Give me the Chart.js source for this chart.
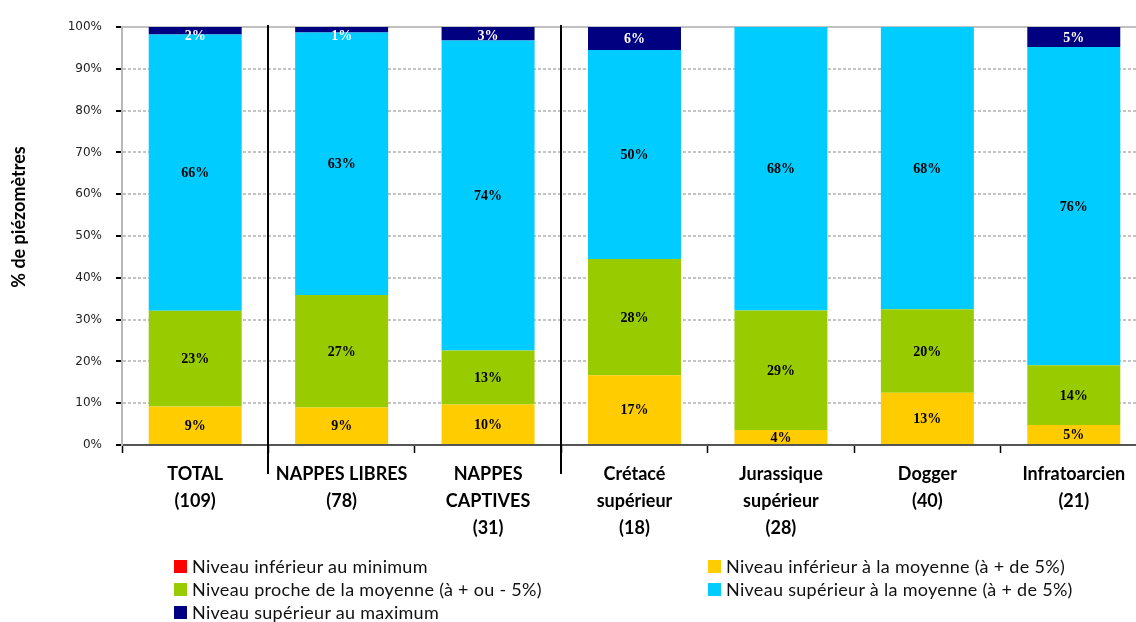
<!DOCTYPE html>
<html lang="fr">
<head>
<meta charset="utf-8">
<title>Piézomètres</title>
<script src="https://cdn.jsdelivr.net/npm/chart.js@4.4.1/dist/chart.umd.min.js"></script>
<style>
  html, body { margin: 0; padding: 0; background: #fff; overflow: hidden; }
  #wrap { position: relative; width: 1147px; height: 622px; }
  #legend { position: absolute; left: 0; top: 0; width: 1136px; height: 622px; pointer-events: none;
            font-family: Lato, "Open Sans", sans-serif; font-size: 18px; letter-spacing: 0.3px; color: #111; }
  .lg-item { position: absolute; display: flex; align-items: center; white-space: nowrap; height: 22px; }
  .lg-box  { width: 13px; height: 13px; margin-right: 5px; }
</style>
</head>
<body>
<div id="wrap">
  <canvas id="chart" width="1147" height="622"></canvas>
  <div id="legend"></div>
</div>

<script>
/* ── Data ────────────────────────────────────────────────────────────────── */
const categories = [
  ['TOTAL', '(109)'],
  ['NAPPES LIBRES', '(78)'],
  ['NAPPES', 'CAPTIVES', '(31)'],
  ['Crétacé', 'supérieur', '(18)'],
  ['Jurassique', 'supérieur', '(28)'],
  ['Dogger', '(40)'],
  ['Infratoarcien', '(21)'],
];

const seriesLabels = [
  'Niveau inférieur au minimum',
  'Niveau inférieur à la moyenne (à + de 5%)',
  'Niveau proche de la moyenne (à + ou - 5%)',
  'Niveau supérieur à la moyenne (à + de  5%)',
  'Niveau supérieur au maximum',
];
const seriesColors = ['#FF0000', '#FFCC00', '#99CC00', '#00CCFF', '#000080'];

const belowMin   = [0, 0, 0, 0, 0, 0, 0];
const belowMean  = [9.2, 9.0, 9.7, 16.7, 3.6, 12.5, 4.8];
const nearMean   = [22.9, 26.9, 12.9, 27.8, 28.6, 20.0, 14.3];
const aboveMean  = [66.1, 62.8, 74.2, 50.0, 67.8, 67.5, 76.1];
const aboveMax   = [1.8, 1.3, 3.2, 5.5, 0, 0, 4.8];

const yTicks = [0, 10, 20, 30, 40, 50, 60, 70, 80, 90, 100];
const yTitle = '% de piézomètres';

const seriesData = [belowMin, belowMean, nearMean, aboveMean, aboveMax];

/* ── Plugins ─────────────────────────────────────────────────────────────── */
const barLabels = {
  id: 'barLabels',
  afterDatasetsDraw(chart) {
    const ctx = chart.ctx;
    ctx.save();
    ctx.font = 'bold 14px "Liberation Serif", serif';
    ctx.textAlign = 'center';
    ctx.textBaseline = 'middle';
    chart.data.datasets.forEach((ds, di) => {
      if (di === 0) return;
      const meta = chart.getDatasetMeta(di);
      meta.data.forEach((bar, i) => {
        const v = ds.data[i];
        if (!v) return;
        ctx.fillStyle = di === 4 ? '#fff' : '#000';
        // keep thin top segments' labels inside the plot like the original
        const y = Math.max((bar.y + bar.base) / 2 + 1, chart.chartArea.top + 9);
        ctx.fillText(Math.round(v) + '%', bar.x, y);
      });
    });
    ctx.restore();
  }
};

const frame = {
  id: 'frame',
  beforeDatasetsDraw(chart) {
    // solid top line at 100%
    const { ctx, chartArea } = chart;
    const y = chart.scales.y.getPixelForValue(100);
    ctx.save();
    ctx.strokeStyle = '#c0c0c0';
    ctx.lineWidth = 2;
    ctx.beginPath();
    ctx.moveTo(chartArea.left, y);
    ctx.lineTo(chartArea.right, y);
    ctx.stroke();
    ctx.restore();
  },
  afterDraw(chart) {
    const { ctx, chartArea } = chart;
    const x = chart.scales.x;
    const w = (chartArea.right - chartArea.left) / categories.length;
    ctx.save();
    // group separators after TOTAL and after NAPPES CAPTIVES
    ctx.strokeStyle = '#000';
    ctx.lineWidth = 2;
    [1, 3].forEach(k => {
      const px = Math.round(x.getPixelForValue(k) - w / 2);
      ctx.beginPath();
      ctx.moveTo(px, chartArea.top - 2);
      ctx.lineTo(px, chartArea.bottom + 29);
      ctx.stroke();
    });
    // y axis title
    ctx.translate(19, 217);
    ctx.rotate(-Math.PI / 2);
    ctx.font = 'bold 18px Lato, "Open Sans", sans-serif';
    ctx.fillStyle = '#000';
    ctx.textAlign = 'center';
    ctx.textBaseline = 'middle';
    ctx.fillText(yTitle, 0, 0);
    ctx.restore();
  }
};

/* ── Chart ───────────────────────────────────────────────────────────────── */
const chart = new Chart(document.getElementById('chart'), {
  type: 'bar',
  data: {
    labels: categories,
    datasets: seriesData.map((d, i) => ({
      label: seriesLabels[i],
      data: d,
      backgroundColor: seriesColors[i],
      borderWidth: 0,
      barPercentage: 0.635,
      categoryPercentage: 1,
    })),
  },
  options: {
    responsive: false,
    animation: false,
    layout: { padding: { top: 27, right: 0, bottom: 0, left: 0 } },
    plugins: {
      legend: { display: false },
      tooltip: { enabled: false },
    },
    scales: {
      x: {
        stacked: true,
        afterFit: s => { s.height = 177; },
        border: { color: '#555', width: 2 },
        grid: { offset: true, drawOnChartArea: false, drawTicks: true, tickLength: 8, tickColor: '#000', tickWidth: 1.5 },
        ticks: {
          color: '#000',
          padding: 8,
          maxRotation: 0,
          autoSkip: false,
          font: { family: 'Lato, "Open Sans", sans-serif', size: 18, weight: 'bold', lineHeight: 1.5 },
        },
      },
      y: {
        stacked: true,
        min: 0,
        max: 100,
        afterFit: s => { s.width = 122; },
        afterBuildTicks: s => { s.ticks = yTicks.map(v => ({ value: v })); },
        border: { color: '#b8b8b8', width: 2, dash: [3, 2] },
        grid: {
          color: ctx => (ctx.tick && ctx.tick.value === 0 ? 'rgba(0,0,0,0)' : '#c4c4c4'),
          lineWidth: 2,
          drawTicks: true,
          tickLength: 6,
          tickColor: '#000',
          tickBorderDash: [],
        },
        ticks: {
          color: '#222',
          padding: 14,
          font: { family: '"DejaVu Sans", sans-serif', size: 12 },
          callback: v => v + '%',
        },
      },
    },
  },
  plugins: [barLabels, frame],
});

/* ── Legend (two columns, row-major like the original) ──────────────────── */
const legendPos = [
  { left: 174, top: 566 }, { left: 708, top: 566 },
  { left: 174, top: 589 }, { left: 708, top: 589 },
  { left: 174, top: 612 },
];
const legendEl = document.getElementById('legend');
legendEl.innerHTML = chart.data.datasets.map((ds, i) => `
  <div class="lg-item" style="left:${legendPos[i].left}px; top:${legendPos[i].top - 11}px">
    <span class="lg-box" style="background:${ds.backgroundColor}"></span>${ds.label}
  </div>`).join('');
</script>
</body>
</html>
